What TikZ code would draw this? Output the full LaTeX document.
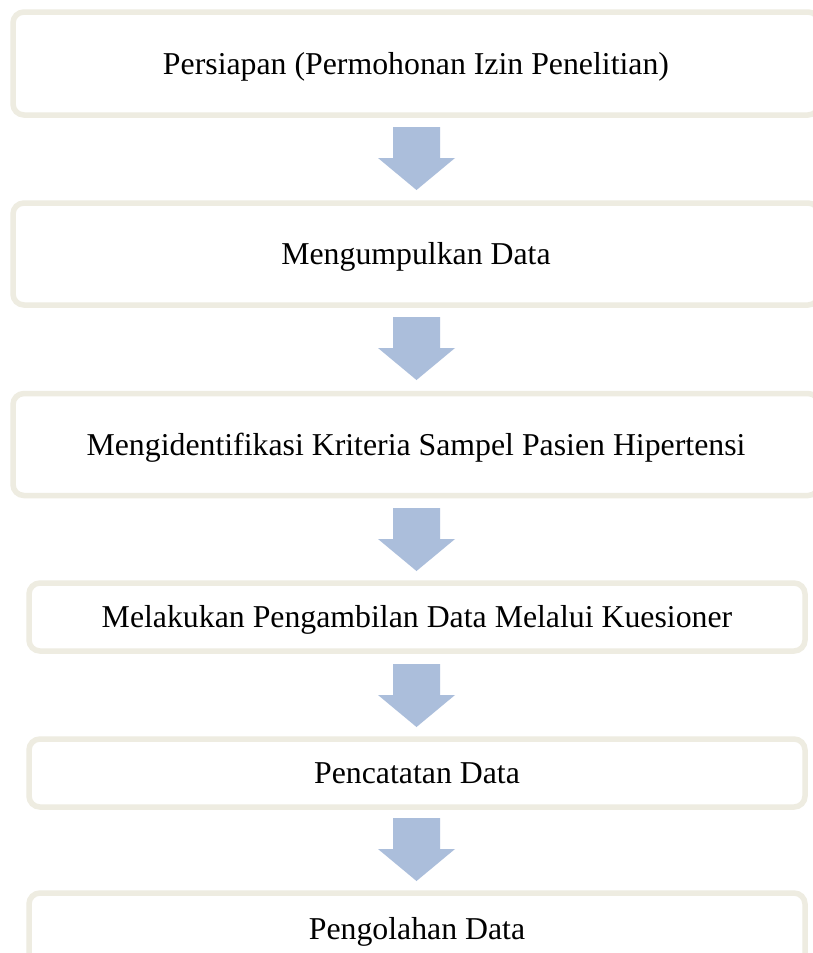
\documentclass[tikz,border=0pt]{standalone}
\usepackage{fontspec}
\setmainfont{Liberation Serif}
\definecolor{boxline}{HTML}{EEECE1}
\definecolor{arrowfill}{HTML}{ABBEDB}
\tikzset{
  stepbox/.style={draw=boxline, line width=5.5pt, rounded corners=11pt, fill=white,
    inner sep=0pt, text height=27pt, text depth=6pt,
    font=\fontsize{31.8}{36}\selectfont, text=black},
  blockarrow/.style={fill=arrowfill, draw=none}
}
\newcommand{\blockarr}[2]{% #1 name, #2 top y
  \fill[blockarrow] (393,#2) -- (440,#2) -- (440,#2+31) -- (455,#2+31) -- (416.5,#2+63) -- (378,#2+31) -- (393,#2+31) -- cycle;
  \coordinate (#1) at (416.5,#2);
}
\begin{document}
\begin{tikzpicture}[x=1pt,y=-1pt]
\useasboundingbox (0,0) rectangle (813,953);
\clip (0,0) rectangle (813,953);
\fill[white] (0,0) rectangle (813,953);
\node[stepbox, minimum width=806pt, minimum height=103pt] (b1) at (416,63.5) {Persiapan (Permohonan Izin Penelitian)};
\node[stepbox, minimum width=806pt, minimum height=102pt] (b2) at (416,254) {Mengumpulkan Data};
\node[stepbox, minimum width=806pt, minimum height=102pt] (b3) at (416,444.5) {Mengidentifikasi Kriteria Sampel Pasien Hipertensi};
\node[stepbox, minimum width=776pt, minimum height=68pt] (b4) at (417,617) {Melakukan Pengambilan Data Melalui Kuesioner};
\node[stepbox, minimum width=776pt, minimum height=68pt] (b5) at (417,773) {Pencatatan Data};
\node[stepbox, minimum width=776pt, minimum height=72pt] (b6) at (417,929) {Pengolahan Data};
\blockarr{a1}{127}
\blockarr{a2}{317}
\blockarr{a3}{508}
\blockarr{a4}{664}
\blockarr{a5}{818}
\end{tikzpicture}
\end{document}
